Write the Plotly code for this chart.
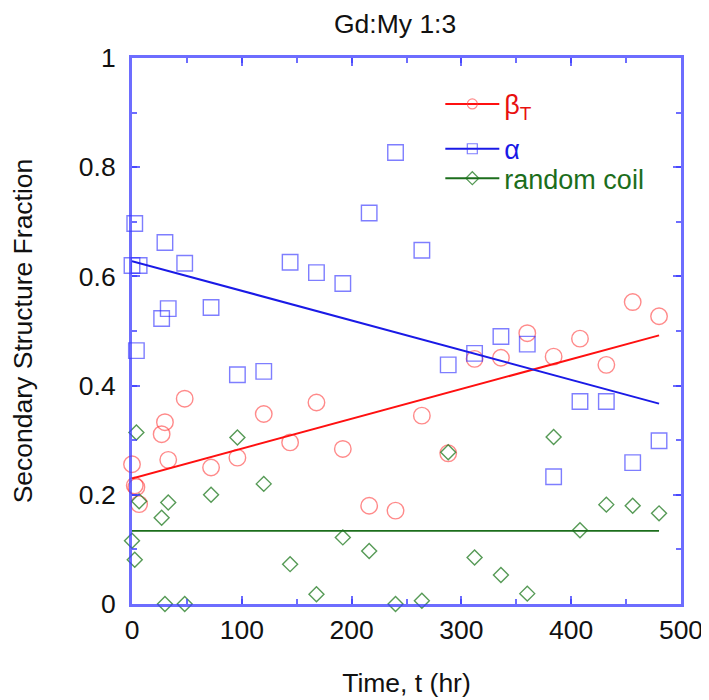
import plotly.graph_objects as go

# ---- data ----
time_hr = [0, 2.5, 4, 6.5, 27, 30, 33, 48, 72, 96, 120, 144, 168, 192, 216,
           240, 264, 288, 312, 336, 360, 384, 408, 432, 456, 480]
beta_t = [0.256, 0.217, 0.214, 0.183, 0.311, 0.333, 0.264, 0.376, 0.250, 0.268,
          0.348, 0.296, 0.369, 0.284, 0.180, 0.171, 0.345, 0.276, 0.449, 0.451,
          0.496, 0.453, 0.486, 0.438, 0.553, 0.527]
alpha = [0.620, 0.697, 0.464, 0.620, 0.523, 0.662, 0.541, 0.624, 0.543, 0.420,
         0.426, 0.626, 0.607, 0.587, 0.716, 0.827, 0.648, 0.438, 0.459, 0.490,
         0.476, 0.233, 0.371, 0.371, 0.259, 0.299]
random_coil = [0.116, 0.081, 0.314, 0.188, 0.158, 0.000, 0.186, 0.000, 0.200,
               0.305, 0.220, 0.073, 0.018, 0.122, 0.097, 0.000, 0.006, 0.278,
               0.085, 0.053, 0.019, 0.306, 0.135, 0.182, 0.180, 0.166]

fit_t = [0, 480]
beta_fit = [0.230, 0.492]
alpha_fit = [0.628, 0.367]
coil_fit = [0.134, 0.134]

x_ticks = [0, 100, 200, 300, 400, 500]
y_ticks = [0, 0.2, 0.4, 0.6, 0.8, 1]

FONT = "Liberation Sans, Arial, Helvetica, sans-serif"
FS = 26.5
RED_M, RED_L = "rgba(255,60,60,0.6)", "#ff1010"
BLUE_M, BLUE_L = "rgba(40,40,255,0.6)", "#1a1ae6"
GREEN_M, GREEN_L = "rgba(30,120,30,0.75)", "#1c6e1c"
AXIS = "rgba(60,60,255,0.75)"

fig = go.Figure()

# data markers
fig.add_trace(go.Scatter(x=time_hr, y=beta_t, mode="markers", showlegend=False,
                         cliponaxis=False,
                         marker=dict(symbol="circle-open", size=16.5, color=RED_M,
                                     line=dict(width=1.4, color=RED_M))))
fig.add_trace(go.Scatter(x=time_hr, y=alpha, mode="markers", showlegend=False,
                         cliponaxis=False,
                         marker=dict(symbol="square-open", size=15.5, color=BLUE_M,
                                     line=dict(width=1.4, color=BLUE_M))))
fig.add_trace(go.Scatter(x=time_hr, y=random_coil, mode="markers", showlegend=False,
                         cliponaxis=False,
                         marker=dict(symbol="diamond-open", size=11.5, color=GREEN_M,
                                     line=dict(width=1.4, color=GREEN_M))))

# fit lines
fig.add_trace(go.Scatter(x=fit_t, y=beta_fit, mode="lines", showlegend=False,
                         line=dict(color=RED_L, width=2)))
fig.add_trace(go.Scatter(x=fit_t, y=alpha_fit, mode="lines", showlegend=False,
                         line=dict(color=BLUE_L, width=2)))
fig.add_trace(go.Scatter(x=fit_t, y=coil_fit, mode="lines", showlegend=False,
                         line=dict(color=GREEN_L, width=1.6)))

# legend entries (one legend per row so that each row sits where the reference has it)
legend_items = [
    ('<span style="color:#e81010">β<sub>T</sub></span>', RED_L, RED_M, "circle-open", "legend"),
    ('<span style="color:#1a1ae6">α</span>', BLUE_L, BLUE_M, "square-open", "legend2"),
    ('<span style="color:#1c6e1c">random coil</span>', GREEN_L, GREEN_M, "diamond-open", "legend3"),
]
for name, lc, mc, sym, lg in legend_items:
    fig.add_trace(go.Scatter(x=[None], y=[None], mode="lines+markers", name=name,
                             legend=lg,
                             line=dict(color=lc, width=2),
                             marker=dict(symbol=sym, size=10, color=mc,
                                         line=dict(width=1.2, color=mc))))

axis_common = dict(
    showline=True, linecolor=AXIS, linewidth=3, mirror="allticks",
    ticks="inside", ticklen=8, tickwidth=2, tickcolor=AXIS,
    showgrid=False, zeroline=False,
    tickfont=dict(family=FONT, size=FS, color="#111"),
)

fig.update_xaxes(range=[0, 500], tickvals=x_ticks,
                 minor=dict(dtick=50, ticks="inside", ticklen=5, tickwidth=2,
                            tickcolor=AXIS, showgrid=False),
                 title=dict(text="Time, t (hr)", font=dict(family=FONT, size=FS, color="#111"),
                            standoff=30),
                 ticklabelstandoff=0,
                 **axis_common)
fig.update_yaxes(range=[0, 1], tickvals=y_ticks,
                 minor=dict(dtick=0.1, ticks="inside", ticklen=5, tickwidth=2,
                            tickcolor=AXIS, showgrid=False),
                 title=dict(text="Secondary Structure Fraction",
                            font=dict(family=FONT, size=FS, color="#111"), standoff=40),
                 ticklabelstandoff=8,
                 **axis_common)

leg_common = dict(xanchor="left", yanchor="middle", bgcolor="rgba(0,0,0,0)",
                  itemwidth=54, font=dict(family=FONT, size=27), borderwidth=0)
fig.update_layout(
    width=709, height=700,
    margin=dict(l=124, r=36, t=50, b=104, autoexpand=False),
    paper_bgcolor="white", plot_bgcolor="white",
    title=dict(text="Gd:My 1:3", x=0.546, xref="container", xanchor="center",
               y=0.977, yref="container", yanchor="middle",
               font=dict(family=FONT, size=FS, color="#111")),
    legend=dict(x=0.5616, y=0.915, **leg_common),
    legend2=dict(x=0.5616, y=0.833, **leg_common),
    legend3=dict(x=0.5616, y=0.779, **leg_common),
    font=dict(family=FONT),
)

fig.write_html("out.html")
